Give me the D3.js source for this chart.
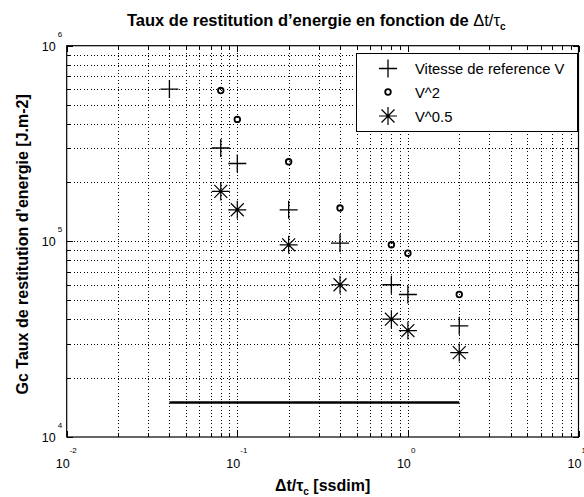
<!DOCTYPE html>
<html><head><meta charset="utf-8">
<script src="https://cdn.jsdelivr.net/npm/d3@7"></script>
<style>
body{margin:0;background:#fff}
svg text{font-family:"Liberation Sans",Arial,Helvetica,sans-serif;fill:#000}
</style>
</head><body><svg id="c" width="584" height="497"></svg>
<script>
// ---- data ----
const xRef = [0.04, 0.08, 0.1, 0.2, 0.4, 0.8, 1, 2];
const refValues = [6.0e5, 3.0e5, 2.5e5, 1.45e5, 9.8e4, 6.0e4, 5.35e4, 3.7e4];
const xV2 = [0.08, 0.1, 0.2, 0.4, 0.8, 1, 2];
const v2Values = [5.9e5, 4.2e5, 2.55e5, 1.48e5, 9.6e4, 8.7e4, 5.35e4];
const xV05 = [0.08, 0.1, 0.2, 0.4, 0.8, 1, 2];
const v05Values = [1.8e5, 1.45e5, 9.6e4, 6.0e4, 4.0e4, 3.5e4, 2.7e4];
const lineX = [0.04, 2];
const lineY = [1.5e4, 1.5e4];
const xTickExps = [-2, -1, 0, 1];
const yTickExps = [4, 5, 6];
const legendLabels = ["Vitesse de reference V", "V^2", "V^0.5"];
const titleMain = "Taux de restitution d\u2019energie en fonction de ";
const titleSym = "\u0394t/\u03c4";
const titleSub = "c";
const xLabelMain = "\u0394t/\u03c4";
const xLabelRest = " [ssdim]";
const yLabel = "Gc Taux de restitution d\u2019energie [J.m-2]";

// ---- layout ----
const L = 66.7, R = 578.5, T = 45.7, B = 437;
const svg = d3.select("#c");
const x = d3.scaleLog().domain([1e-2, 1e1]).range([L, R]);
const y = d3.scaleLog().domain([1e4, 1e6]).range([B, T]);

function allTicks(e0, e1) {
  const out = [];
  for (let e = e0; e < e1; e++) for (let k = 1; k <= 9; k++) out.push(k * Math.pow(10, e));
  out.push(Math.pow(10, e1));
  return out;
}
const xt = allTicks(-2, 1), yt = allTicks(4, 6);

// grid
const grid = svg.append("g").attr("stroke", "#000").attr("stroke-width", 1)
  .attr("stroke-dasharray", "1,2.4").attr("shape-rendering", "crispEdges");
grid.selectAll(".gx").data(xt.filter(v => v > 1e-2 && v < 1e1)).join("line")
  .attr("x1", d => Math.round(x(d)) + 0.5).attr("x2", d => Math.round(x(d)) + 0.5)
  .attr("y1", T).attr("y2", B);
grid.selectAll(".gy").data(yt.filter(v => v > 1e4 && v < 1e6)).join("line")
  .attr("y1", d => Math.round(y(d)) + 0.5).attr("y2", d => Math.round(y(d)) + 0.5)
  .attr("x1", L).attr("x2", R);

// ticks (inward, all four sides)
const isMajor = v => Math.abs(Math.log10(v) - Math.round(Math.log10(v))) < 1e-9;
const tk = svg.append("g").attr("stroke", "#000").attr("stroke-width", 1).attr("shape-rendering", "crispEdges");
xt.forEach(v => {
  const len = isMajor(v) ? 6 : 4, px = Math.round(x(v)) + 0.5;
  tk.append("line").attr("x1", px).attr("x2", px).attr("y1", B).attr("y2", B - len);
  tk.append("line").attr("x1", px).attr("x2", px).attr("y1", T).attr("y2", T + len);
});
yt.forEach(v => {
  const len = isMajor(v) ? 6 : 4, py = Math.round(y(v)) + 0.5;
  tk.append("line").attr("y1", py).attr("y2", py).attr("x1", L).attr("x2", L + len);
  tk.append("line").attr("y1", py).attr("y2", py).attr("x1", R).attr("x2", R - len);
});
// box
svg.append("rect").attr("x", L).attr("y", T).attr("width", R - L).attr("height", B - T)
  .attr("fill", "none").attr("stroke", "#000").attr("stroke-width", 1.2);

// tick labels
xTickExps.forEach(e => {
  const px = x(Math.pow(10, e));
  svg.append("text").attr("x", px - 11).attr("y", B + 31).attr("font-size", 12.5).text("10");
  svg.append("text").attr("x", px + 3).attr("y", B + 16).attr("font-size", 8).text(e < 0 ? "-" + (-e) : e);
});
yTickExps.forEach(e => {
  const py = y(Math.pow(10, e));
  svg.append("text").attr("x", L - 11).attr("y", py + 5).attr("font-size", 12.5).attr("text-anchor", "end").text("10");
  svg.append("text").attr("x", L - 9).attr("y", py - 9).attr("font-size", 8).text(e);
});

// markers
const mk = svg.append("g").attr("stroke", "#000").attr("fill", "none");
function plus(g, cx, cy, r) {
  g.append("path").attr("d", `M${cx - r},${cy}H${cx + r}M${cx},${cy - r}V${cy + r}`).attr("stroke-width", 1.3);
}
function circ(g, cx, cy) {
  g.append("circle").attr("cx", cx).attr("cy", cy).attr("r", 2.8).attr("stroke-width", 1.8);
}
function star(g, cx, cy, r) {
  const d = r * 0.72;
  g.append("path").attr("d", `M${cx - r},${cy}H${cx + r}M${cx},${cy - r}V${cy + r}M${cx - d},${cy - d}L${cx + d},${cy + d}M${cx - d},${cy + d}L${cx + d},${cy - d}`).attr("stroke-width", 1.2);
  g.append("circle").attr("cx", cx).attr("cy", cy).attr("r", 1.3).attr("fill", "#000").attr("stroke", "none");
}
xRef.forEach((v, i) => plus(mk, x(v), y(refValues[i]), 9));
xV2.forEach((v, i) => circ(mk, x(v), y(v2Values[i])));
xV05.forEach((v, i) => star(mk, x(v), y(v05Values[i]), 9));

// reference line
svg.append("line").attr("x1", x(lineX[0])).attr("x2", x(lineX[1]))
  .attr("y1", y(lineY[0])).attr("y2", y(lineY[1])).attr("stroke", "#000").attr("stroke-width", 2.6);

// legend
const lg = svg.append("g");
lg.append("rect").attr("x", 356.5).attr("y", 53.5).attr("width", 221).attr("height", 78)
  .attr("fill", "#fff").attr("stroke", "#000").attr("stroke-width", 1);
const ly = [68.5, 92, 116];
plus(lg.append("g").attr("stroke", "#000"), 388, ly[0], 9);
circ(lg.append("g").attr("stroke", "#000").attr("fill", "none"), 388, ly[1]);
star(lg.append("g").attr("stroke", "#000"), 388, ly[2], 9);
legendLabels.forEach((s, i) => {
  lg.append("text").attr("x", 415).attr("y", ly[i] + 5.5).attr("font-size", 14.8).text(s);
});

// title
const tt = svg.append("text").attr("x", 127).attr("y", 25.5).attr("font-size", 16.5).attr("font-weight", "bold");
tt.append("tspan").text(titleMain);
tt.append("tspan").attr("font-weight", "normal").text(titleSym);
tt.append("tspan").attr("dy", 4).attr("font-size", 10).text(titleSub);
// x label
const xl = svg.append("text").attr("x", (L + R) / 2).attr("y", 491).attr("font-size", 16)
  .attr("font-weight", "bold").attr("text-anchor", "middle");
xl.append("tspan").text(xLabelMain);
xl.append("tspan").attr("dy", 4).attr("font-size", 10).text("c");
xl.append("tspan").attr("dy", -4).text(xLabelRest);
// y label
svg.append("text").attr("transform", `translate(28,${(T + B) / 2 + 3}) rotate(-90)`)
  .attr("font-size", 16).attr("font-weight", "bold").attr("text-anchor", "middle").text(yLabel);
</script>
</body></html>
